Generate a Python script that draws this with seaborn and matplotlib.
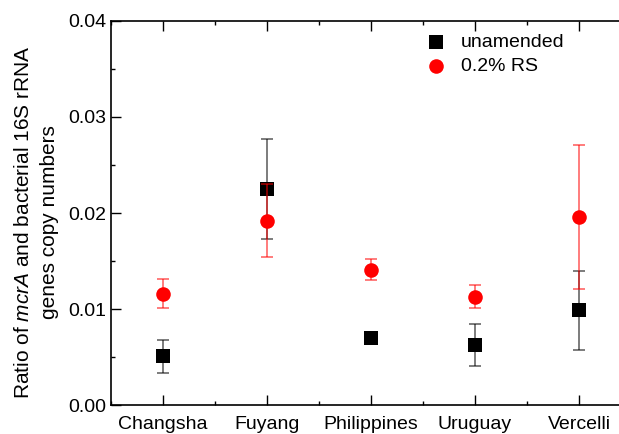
import matplotlib
matplotlib.use("Agg")
import matplotlib.pyplot as plt
import seaborn as sns
import pandas as pd
from matplotlib.ticker import MultipleLocator

sites = ["Changsha", "Fuyang", "Philippines", "Uruguay", "Vercelli"]
unamended = [0.0051, 0.0225, 0.0070, 0.0063, 0.0099]
unamended_err = [0.0017, 0.0052, 0.0003, 0.0022, 0.0041]
rs = [0.0116, 0.0192, 0.0141, 0.0113, 0.0196]
rs_err = [0.0015, 0.0038, 0.0011, 0.0012, 0.0075]
series_names = ["unamended", "0.2% RS"]

sns.set_theme(style="ticks")
plt.rcParams["font.family"] = ["Liberation Sans", "DejaVu Sans"]
plt.rcParams["mathtext.fontset"] = "custom"
plt.rcParams["mathtext.rm"] = "Liberation Sans"
plt.rcParams["mathtext.it"] = "Liberation Sans:italic"
plt.rcParams["text.color"] = "black"
plt.rcParams["axes.labelcolor"] = "black"
plt.rcParams["xtick.color"] = "black"
plt.rcParams["ytick.color"] = "black"

df = pd.DataFrame({
    "site": sites * 2,
    "value": unamended + rs,
    "err": unamended_err + rs_err,
    "group": [series_names[0]] * len(sites) + [series_names[1]] * len(sites),
})

fig = plt.figure(figsize=(6.19, 4.34), dpi=100)
ax = fig.add_axes([111 / 619, 28.7 / 434, 520 / 619, 384.6 / 434])

colors = {"unamended": "black", "0.2% RS": "#ff0000"}
markers = {"unamended": "s", "0.2% RS": "o"}

for i, g in enumerate(series_names):
    sub = df[df["group"] == g]
    ax.errorbar(sub["site"], sub["value"], yerr=sub["err"], fmt="none",
                ecolor=colors[g], alpha=0.6, elinewidth=1.2, capsize=4,
                capthick=1.2, zorder=2 + 2 * i)
    sns.scatterplot(data=sub, x="site", y="value", marker=markers[g],
                    color=colors[g], s=110, linewidth=0, ax=ax,
                    label=g, zorder=3 + 2 * i)

ax.set_xlim(-0.5, 4.5)
ax.set_ylim(0, 0.04)
ax.yaxis.set_major_locator(MultipleLocator(0.01))
ax.yaxis.set_minor_locator(MultipleLocator(0.005))
ax.set_xticks(range(len(sites)))
ax.set_xticks([i + 0.5 for i in range(-1, len(sites))], minor=True)
ax.yaxis.set_major_formatter(matplotlib.ticker.FormatStrFormatter("%.2f"))

ax.tick_params(which="both", direction="in", top=True, right=True,
               labelsize=14, color="black", labelcolor="black", width=1)
ax.tick_params(which="major", length=7)
ax.tick_params(which="minor", length=3)
ax.tick_params(axis="x", pad=8)
for s in ax.spines.values():
    s.set_linewidth(1.2)
    s.set_color("black")

ax.set_xlabel("")
ax.set_ylabel("Ratio of $\\it{mcrA}$ and bacterial 16S rRNA\ngenes copy numbers",
              fontsize=15, linespacing=1.45, color="black")
ax.yaxis.set_label_coords(-0.1, 0.477)

leg = ax.legend(loc="upper left", bbox_to_anchor=(0.563, 1.0), frameon=False,
                fontsize=14, handletextpad=0.3, labelspacing=0.32,
                borderaxespad=0.25, labelcolor="black")

fig.savefig("out.png", dpi=100)
